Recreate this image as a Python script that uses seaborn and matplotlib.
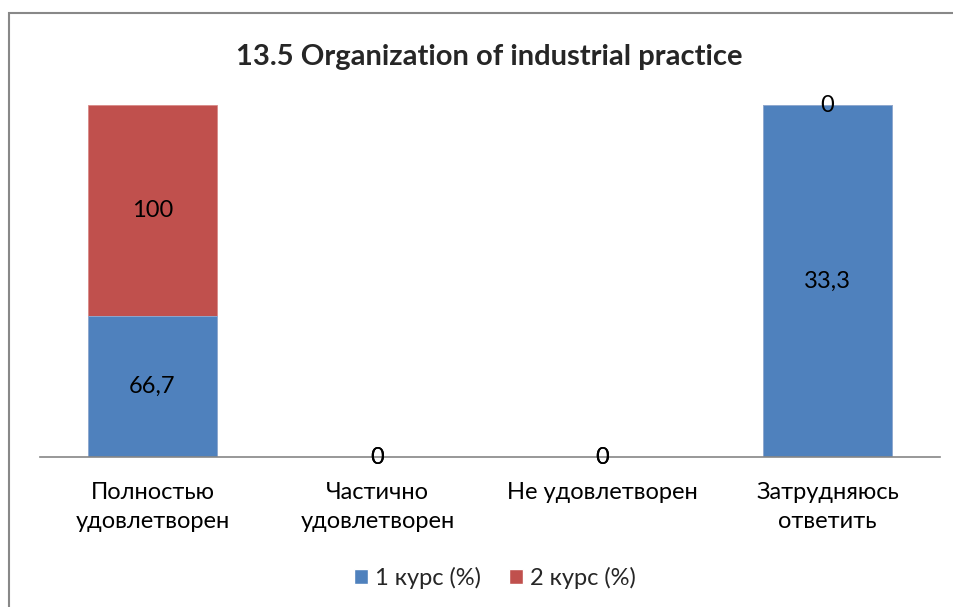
import numpy as np
import pandas as pd
import seaborn as sns
import matplotlib
matplotlib.use('Agg')
import matplotlib.pyplot as plt
from matplotlib.patches import Rectangle, Patch

categories = ['Полностью\nудовлетворен', 'Частично\nудовлетворен',
              'Не удовлетворен', 'Затрудняюсь\nответить']
course_1 = [66.7, 0, 0, 33.3]
course_2 = [100, 0, 0, 0]
series_names = ['1 курс (%)', '2 курс (%)']

blue = '#4F81BD'
red = '#C0504D'

sns.set_theme(style='white')
plt.rcParams['font.family'] = ['Lato', 'DejaVu Sans']

# 100% stacked shares
c1 = np.array(course_1, dtype=float)
c2 = np.array(course_2, dtype=float)
total = c1 + c2
share_1 = np.divide(c1, total, out=np.zeros_like(c1), where=total > 0)
share_2 = np.divide(c2, total, out=np.zeros_like(c2), where=total > 0)

df = pd.DataFrame({'category': categories,
                   'bottom': share_1,
                   'top': share_1 + share_2})

fig = plt.figure(figsize=(9.54, 6.07), dpi=100)
ax = fig.add_axes([40 / 954, 150 / 607, 900 / 954, 352 / 607])

# red drawn full height first, blue on top covers lower part
sns.barplot(data=df, x='category', y='top', color=red, width=0.57,
            saturation=1, edgecolor='#d98a88', linewidth=0.6, ax=ax)
sns.barplot(data=df, x='category', y='bottom', color=blue, width=0.57,
            saturation=1, edgecolor='#8fb0d8', linewidth=0.6, ax=ax)

ax.set_ylim(0, 1)
ax.set_xlim(-0.5, len(categories) - 0.5)
ax.set_xlabel('')
ax.set_ylabel('')
ax.set_yticks([])
ax.tick_params(axis='x', length=0, pad=18, labelsize=17, colors='black')
for lbl in ax.get_xticklabels():
    lbl.set_linespacing(1.45)
for side in ['top', 'right', 'left']:
    ax.spines[side].set_visible(False)
ax.spines['bottom'].set_color('#868686')
ax.spines['bottom'].set_linewidth(1.2)


def fmt(v):
    return ('%g' % v).replace('.', ',')


for i in range(len(categories)):
    ax.text(i, share_1[i] / 2, fmt(course_1[i]), ha='center', va='center',
            fontsize=17, color='black')
    ax.text(i, share_1[i] + share_2[i] / 2, fmt(course_2[i]), ha='center',
            va='center', fontsize=17, color='black')

fig.text(489 / 954, 1 - 57 / 607, '13.5 Organization of industrial practice',
         ha='center', va='center', fontsize=21, fontweight='bold')

handles = [Patch(facecolor=blue), Patch(facecolor=red)]
fig.legend(handles, series_names, loc='center', ncol=2,
           bbox_to_anchor=(495 / 954, 1 - 578 / 607), frameon=False,
           fontsize=17, handlelength=0.6, handleheight=0.6,
           handletextpad=0.3, columnspacing=1.2)

fig.patches.append(Rectangle((9 / 954, -0.1), 1.2, 1 - 13 / 607 + 0.1,
                             transform=fig.transFigure, fill=False,
                             edgecolor='#888888', linewidth=1.5))

fig.savefig('out.png', dpi=100)
